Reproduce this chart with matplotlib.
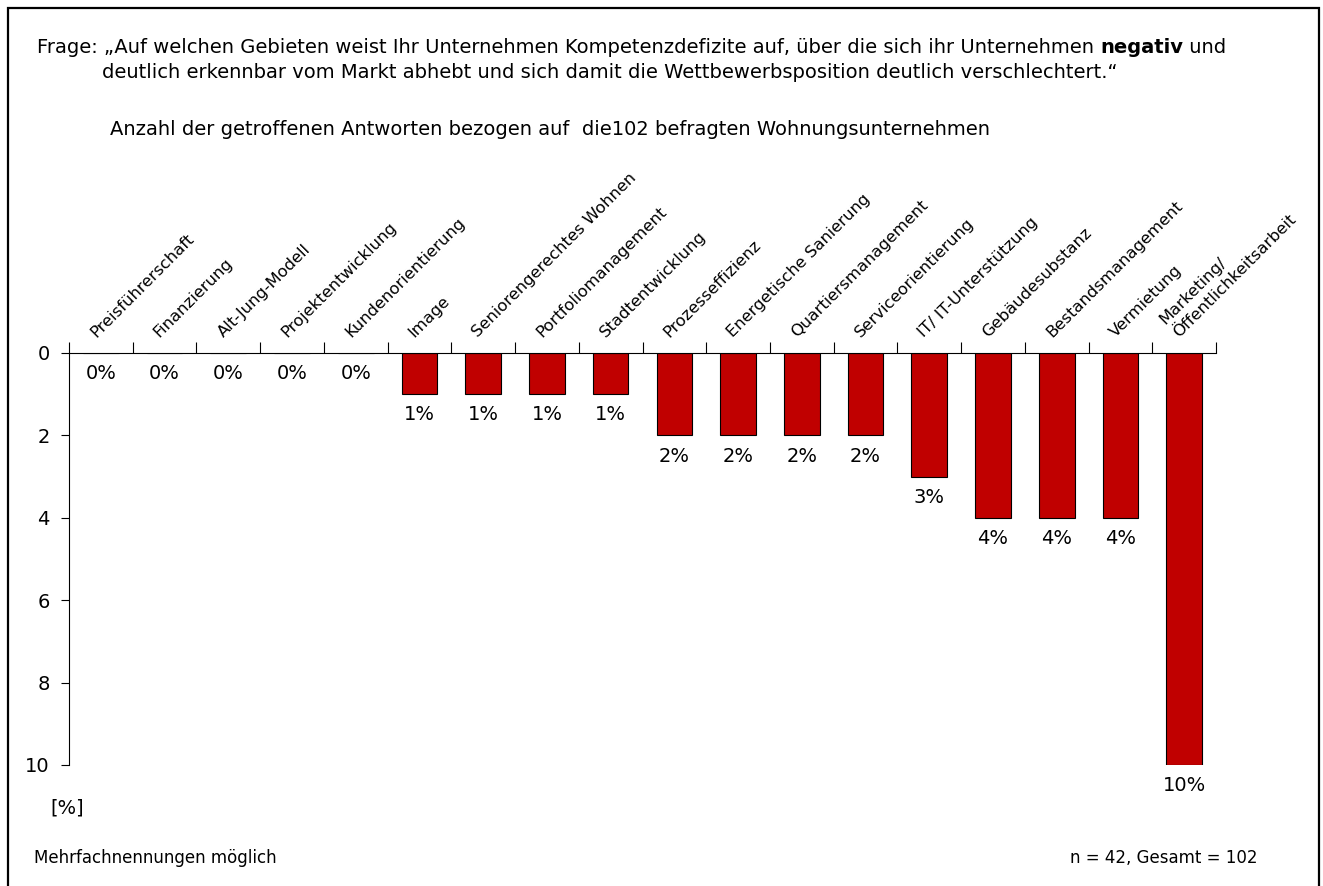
import matplotlib
matplotlib.use("Agg")
import matplotlib.pyplot as plt
from matplotlib.patches import Rectangle

plt.rcParams['font.family'] = ['DejaVu Sans']

# Data
categories = [
    "Preisführerschaft", "Finanzierung", "Alt-Jung-Modell", "Projektentwicklung",
    "Kundenorientierung", "Image", "Seniorengerechtes Wohnen", "Portfoliomanagement",
    "Stadtentwicklung", "Prozesseffizienz", "Energetische Sanierung",
    "Quartiersmanagement", "Serviceorientierung", "IT/ IT-Unterstützung",
    "Gebäudesubstanz", "Bestandsmanagement", "Vermietung",
    "Marketing/\nÖffentlichkeitsarbeit",
]
values = [0, 0, 0, 0, 0, 1, 1, 1, 1, 2, 2, 2, 2, 3, 4, 4, 4, 10]
y_ticks = [0, 2, 4, 6, 8, 10]

W, H = 1323, 886
fig = plt.figure(figsize=(W / 100, H / 100), dpi=100)

def fx(px):
    return px / W

def fy(py):
    return 1 - py / H

# frame around the whole chart
fig.patches.append(Rectangle((fx(8), fy(895)), fx(1319) - fx(8), fy(8) - fy(895),
                             transform=fig.transFigure, fill=False,
                             edgecolor="black", linewidth=1.6))

ax = fig.add_axes([fx(69), fy(765), fx(1216) - fx(69), fy(353) - fy(765)])

x = list(range(len(categories)))
ax.bar(x, values, width=0.56, color="#C00000", edgecolor="black", linewidth=0.8)

ax.set_xlim(-0.5, len(categories) - 0.5)
ax.set_ylim(10, 0)
ax.set_yticks(y_ticks)
ax.tick_params(axis="y", labelsize=14, length=6, width=0.8, pad=8)

# x axis on top, ticks between categories
ax.xaxis.tick_top()
ax.set_xticks([i - 0.5 for i in range(len(categories) + 1)])
ax.set_xticklabels([])
ax.tick_params(axis="x", length=8, width=0.8, direction="out")

for s in ["right", "bottom"]:
    ax.spines[s].set_visible(False)
ax.spines["top"].set_linewidth(0.8)
ax.spines["left"].set_linewidth(0.8)

# category labels, rotated
for i, cat in enumerate(categories):
    ax.annotate(cat, xy=(i, 0), xycoords="data", xytext=(-2, 9),
                textcoords="offset points", rotation=45, rotation_mode="anchor",
                ha="left", va="bottom", fontsize=11.8, linespacing=1.35,
                annotation_clip=False)

# value labels below bars
for i, v in enumerate(values):
    ax.annotate(f"{v}%", xy=(i, v), xytext=(0, -8), textcoords="offset points",
                ha="center", va="top", fontsize=14, annotation_clip=False)

# title with bold word
t1 = fig.text(fx(37), fy(53), "Frage: „Auf welchen Gebieten weist Ihr Unternehmen "
              "Kompetenzdefizite auf, über die sich ihr Unternehmen ", fontsize=14,
              va="baseline")
t2 = fig.text(0, 0, "negativ", fontsize=14, fontweight="bold", va="baseline")
t3 = fig.text(0, 0, " und", fontsize=14, va="baseline")
fig.canvas.draw()
r = fig.canvas.get_renderer()
bb = t1.get_window_extent(r)
t2.set_position((bb.x1 / W, fy(53)))
bb2 = t2.get_window_extent(r)
t3.set_position((bb2.x1 / W, fy(53)))

fig.text(fx(102), fy(78), "deutlich erkennbar vom Markt abhebt und sich damit die "
         "Wettbewerbsposition deutlich verschlechtert.“", fontsize=14, va="baseline")
fig.text(fx(110), fy(135), "Anzahl der getroffenen Antworten bezogen auf  die102 "
         "befragten Wohnungsunternehmen", fontsize=14, va="baseline")

fig.text(fx(67), fy(808), "[%]", fontsize=14, ha="center", va="center")
fig.text(fx(34), fy(858), "Mehrfachnennungen möglich", fontsize=12, va="center")
fig.text(fx(1257), fy(858), "n = 42, Gesamt = 102", fontsize=12, ha="right", va="center")

fig.savefig("out.png", dpi=100)
